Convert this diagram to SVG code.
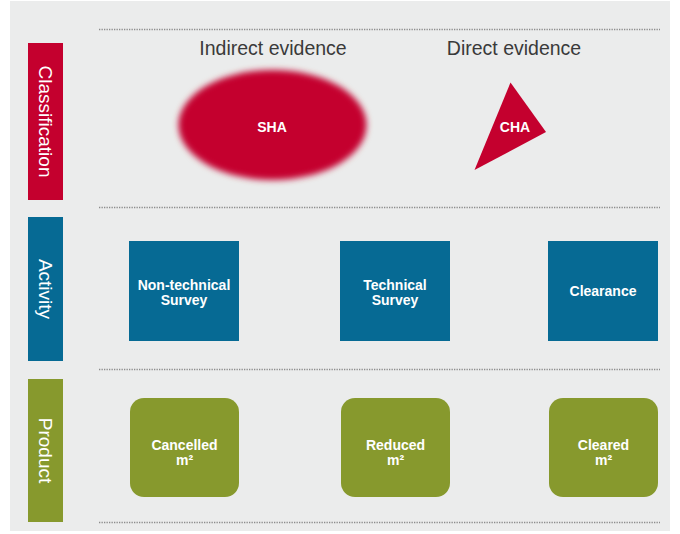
<svg xmlns="http://www.w3.org/2000/svg" width="680" height="534" viewBox="0 0 680 534">
  <defs>
    <filter id="blur" x="-20%" y="-20%" width="140%" height="140%">
      <feGaussianBlur stdDeviation="3.2"/>
    </filter>
  </defs>
  <style>
    .dots { stroke: #8c8c8c; stroke-width: 1.6; stroke-dasharray: 1.3 1.2; fill: none; }
    .head { font-family: "Liberation Sans", Arial, sans-serif; font-size: 19.5px; fill: #3a3a3a; text-anchor: middle; }
    .side { font-family: "Liberation Sans", Arial, sans-serif; font-size: 19px; fill: #ffffff; text-anchor: middle; }
    .lbl { font-family: "Liberation Sans", Arial, sans-serif; font-size: 14px; font-weight: bold; fill: #ffffff; text-anchor: middle; }
    .red { fill: #c4002e; }
    .blue { fill: #066a94; }
    .green { fill: #87992d; }
  </style>
  <rect x="0" y="0" width="680" height="534" fill="#ffffff"/>
  <rect x="10" y="1" width="660" height="530" fill="#ebecec"/>

  <g id="separators">
    <line class="dots" x1="99" y1="29.5" x2="660" y2="29.5"/>
    <line class="dots" x1="99" y1="207.5" x2="660" y2="207.5"/>
    <line class="dots" x1="99" y1="369.5" x2="660" y2="369.5"/>
    <line class="dots" x1="99" y1="522.5" x2="660" y2="522.5"/>
  </g>

  <g id="headers">
    <text class="head" x="273" y="55">Indirect evidence</text>
    <text class="head" x="514" y="55">Direct evidence</text>
  </g>

  <g id="classification">
    <rect class="red" x="28" y="43" width="35" height="157"/>
    <text class="side" transform="translate(39,121.5) rotate(90)">Classification</text>
  </g>
  <g id="activity">
    <rect class="blue" x="28" y="217" width="35" height="144"/>
    <text class="side" transform="translate(39,289) rotate(90)">Activity</text>
  </g>
  <g id="product">
    <rect class="green" x="28" y="379" width="35" height="143"/>
    <text class="side" transform="translate(39,450.5) rotate(90)">Product</text>
  </g>

  <g id="sha">
    <ellipse class="red" cx="272.5" cy="125" rx="94" ry="55" filter="url(#blur)"/>
    <text class="lbl" x="272" y="132">SHA</text>
  </g>
  <g id="cha">
    <polygon class="red" points="510.5,82.5 546,132 474.5,170"/>
    <text class="lbl" x="515" y="132">CHA</text>
  </g>

  <g id="non-technical-survey">
    <rect class="blue" x="129" y="241" width="110" height="100"/>
    <text class="lbl" x="184" y="290">Non-technical</text>
    <text class="lbl" x="184" y="305">Survey</text>
  </g>
  <g id="technical-survey">
    <rect class="blue" x="340" y="241" width="110" height="100"/>
    <text class="lbl" x="395" y="290">Technical</text>
    <text class="lbl" x="395" y="305">Survey</text>
  </g>
  <g id="clearance">
    <rect class="blue" x="548" y="241" width="110" height="100"/>
    <text class="lbl" x="603" y="296">Clearance</text>
  </g>

  <g id="cancelled">
    <rect class="green" x="130" y="398" width="109" height="99" rx="14"/>
    <text class="lbl" x="184.5" y="450">Cancelled</text>
    <text class="lbl" x="184.5" y="465">m²</text>
  </g>
  <g id="reduced">
    <rect class="green" x="341" y="398" width="109" height="99" rx="14"/>
    <text class="lbl" x="395.5" y="450">Reduced</text>
    <text class="lbl" x="395.5" y="465">m²</text>
  </g>
  <g id="cleared">
    <rect class="green" x="549" y="398" width="109" height="99" rx="14"/>
    <text class="lbl" x="603.5" y="450">Cleared</text>
    <text class="lbl" x="603.5" y="465">m²</text>
  </g>

  <g id="connectors"></g>
</svg>
